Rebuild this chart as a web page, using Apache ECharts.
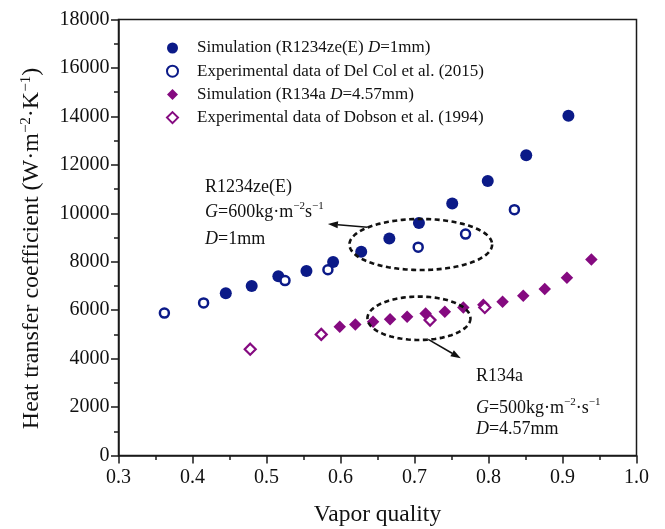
<!DOCTYPE html>
<html>
<head>
<meta charset="utf-8">
<script src="https://cdn.jsdelivr.net/npm/echarts@6/dist/echarts.min.js"></script>
<style>
html,body{margin:0;padding:0;background:#fff;}
#main{width:665px;height:529px;}
</style>
</head>
<body>
<div id="main"></div>
<script>
// ---- data ----
const xSimR1234 = [0.445, 0.480, 0.516, 0.554, 0.590, 0.628, 0.666, 0.706, 0.751, 0.799, 0.851, 0.908];
const ySimR1234 = [6700, 7000, 7400, 7620, 7990, 8410, 8960, 9600, 10400, 11330, 12400, 14030];
const xExpDelCol = [0.362, 0.415, 0.525, 0.583, 0.705, 0.769, 0.835];
const yExpDelCol = [5880, 6300, 7220, 7670, 8600, 9140, 10150];
const xSimR134a = [0.599, 0.620, 0.644, 0.667, 0.690, 0.715, 0.741, 0.766, 0.793, 0.819, 0.847, 0.876, 0.906, 0.939];
const ySimR134a = [5320, 5410, 5520, 5620, 5730, 5860, 5930, 6110, 6220, 6350, 6600, 6870, 7340, 8090];
const xExpDobson = [0.478, 0.574, 0.721, 0.795];
const yExpDobson = [4390, 5000, 5590, 6110];
const seriesNames = [
  'Simulation (R1234ze(E) D=1mm)',
  'Experimental data of Del Col et al. (2015)',
  'Simulation (R134a D=4.57mm)',
  'Experimental data of Dobson et al. (1994)'
];
const legendRich = [
  '{f|Simulation (R1234ze(E) }{i|D}{a|=1mm)}',
  '{f|Experimental data of Del Col et al. (2015)}',
  '{f|Simulation (R134a }{i|D}{a|=4.57mm)}',
  '{f|Experimental data of Dobson et al. (1994)}'
];
const xTicks = {min: 0.3, max: 1.0, interval: 0.1};
const yTicks = {min: 0, max: 18000, interval: 2000};

const FONT = "'Liberation Serif','Times New Roman',serif";
const NAVY = '#0b1a88';
const PURPLE = '#850a80';

function pairs(xs, ys){ return xs.map((x,i)=>[x, ys[i]]); }

const chart = echarts.init(document.getElementById('main'), null, {renderer:'canvas'});
const option = {
  animation: false,
  backgroundColor: '#fff',
  grid: {left: 118.5, right: 28.5, top: 19.5, bottom: 73.5, containLabel: false, outerBoundsMode: 'none',
         show: true, borderColor: '#1a1a1a', borderWidth: 1.5, backgroundColor: 'transparent'},
  legend: {
    orient: 'vertical', left: 161, top: 34.5, itemWidth: 11, itemHeight: 11, itemGap: 6.2,
    data: seriesNames,
    formatter: function(name){ return legendRich[seriesNames.indexOf(name)]; },
    textStyle: {
      fontFamily: FONT, fontSize: 17, color: '#111',
      rich: {
        f: {fontFamily: FONT, fontSize: 17, color: '#111', padding: [0,0,0,14], lineHeight: 18},
        a: {fontFamily: FONT, fontSize: 17, color: '#111', lineHeight: 18},
        i: {fontFamily: FONT, fontSize: 17, color: '#111', fontStyle: 'italic', lineHeight: 18}
      }
    }
  },
  xAxis: {
    type: 'value', min: xTicks.min, max: xTicks.max, interval: xTicks.interval,
    name: 'Vapor quality', nameLocation: 'middle', nameGap: 47,
    nameTextStyle: {fontFamily: FONT, fontSize: 23.5, color: '#111'},
    axisLine: {show: true, lineStyle: {color: '#1a1a1a', width: 1.5}},
    axisTick: {show: true, inside: false, length: 8, lineStyle: {color: '#1a1a1a', width: 1.5}},
    minorTick: {show: true, splitNumber: 2, length: 4.5, lineStyle: {color: '#1a1a1a', width: 1.5}},
    splitLine: {show: false},
    axisLabel: {fontFamily: FONT, fontSize: 20, color: '#111', margin: 12, formatter: v => v.toFixed(1)}
  },
  yAxis: {
    type: 'value', min: yTicks.min, max: yTicks.max, interval: yTicks.interval,
    name: '{a|Heat transfer coefficient (W·m}{s|−2}{a|·K}{s|−1}{a|)}',
    nameLocation: 'middle', nameGap: 74,
    nameTextStyle: {
      fontFamily: FONT, fontSize: 24, color: '#111', padding: [0, 22, 0, 0],
      rich: {
        a: {fontFamily: FONT, fontSize: 24, color: '#111', lineHeight: 26},
        s: {fontFamily: FONT, fontSize: 15, color: '#111', lineHeight: 16, verticalAlign: 'top'}
      }
    },
    axisLine: {show: true, lineStyle: {color: '#1a1a1a', width: 1.5}},
    axisTick: {show: true, inside: false, length: 7.5, lineStyle: {color: '#1a1a1a', width: 1.5}},
    minorTick: {show: true, splitNumber: 2, length: 4.5, lineStyle: {color: '#1a1a1a', width: 1.5}},
    splitLine: {show: false},
    axisLabel: {fontFamily: FONT, fontSize: 20, color: '#111', margin: 9, formatter: v => String(v)}
  },
  series: [
    {name: seriesNames[0], type: 'scatter', data: pairs(xSimR1234, ySimR1234), symbol: 'circle', symbolSize: 12,
     itemStyle: {color: NAVY, opacity: 1}},
    {name: seriesNames[1], type: 'scatter', data: pairs(xExpDelCol, yExpDelCol), symbol: 'circle', symbolSize: 9,
     itemStyle: {color: '#fff', borderColor: NAVY, borderWidth: 2.5, opacity: 1}},
    {name: seriesNames[2], type: 'scatter', data: pairs(xSimR134a, ySimR134a), symbol: 'diamond', symbolSize: 12.5, symbolKeepAspect: true,
     itemStyle: {color: PURPLE, opacity: 1}},
    {name: seriesNames[3], type: 'scatter', data: pairs(xExpDobson, yExpDobson), symbol: 'diamond', symbolSize: 11, symbolKeepAspect: true,
     itemStyle: {color: '#fff', borderColor: PURPLE, borderWidth: 2.2, opacity: 1}}
  ]
};
chart.setOption(option);

// ---- annotations (anchored in data coordinates) ----
const ellipses = [
  {cx: 0.7085, cy: 8711, rx: 0.0964, ry: 1053},
  {cx: 0.706, cy: 5665, rx: 0.0696, ry: 896}
];
const arrows = [
  {from: [0.6366, 9422], to: [0.5830, 9560]},
  {from: [0.7185, 4797], to: [0.7625, 4013]}
];
const labels = [
  {at: [0.417, 11090], text: '{a|R1234ze(E)}'},
  {at: [0.417, 10060], text: '{i|G}{a|=600kg·m}{s|−2}{a|s}{s|−1}'},
  {at: [0.417, 8930], text: '{i|D}{a|=1mm}'},
  {at: [0.783, 3285], text: '{a|R134a}'},
  {at: [0.783, 1960], text: '{i|G}{a|=500kg·m}{s|−2}{a|·s}{s|−1}'},
  {at: [0.783, 1100], text: '{i|D}{a|=4.57mm}'}
];

function P(x, y){ return chart.convertToPixel({gridIndex: 0}, [x, y]); }
const graphics = [];
ellipses.forEach(e => {
  const c = P(e.cx, e.cy);
  const rxp = P(e.cx + e.rx, e.cy)[0] - c[0];
  const ryp = c[1] - P(e.cx, e.cy + e.ry)[1];
  const pts = [];
  for (let k = 0; k < 120; k++) {
    const t = k / 120 * Math.PI * 2;
    pts.push([c[0] + rxp * Math.cos(t), c[1] + ryp * Math.sin(t)]);
  }
  graphics.push({type: 'polygon', shape: {points: pts}, z: 50,
    style: {fill: 'none', stroke: '#111', lineWidth: 2.6, lineDash: [5, 3.5]}});
});
arrows.forEach(a => {
  const p0 = P(a.from[0], a.from[1]);
  const p1 = P(a.to[0], a.to[1]);
  const ang = Math.atan2(p1[1] - p0[1], p1[0] - p0[0]);
  const L = 10, W = 3.5;
  const bx = p1[0] - L * Math.cos(ang), by = p1[1] - L * Math.sin(ang);
  graphics.push({type: 'line', shape: {x1: p0[0], y1: p0[1], x2: bx, y2: by}, z: 50,
    style: {stroke: '#111', lineWidth: 1.5}});
  graphics.push({type: 'polygon', z: 50, shape: {points: [
    [p1[0], p1[1]],
    [bx + W * Math.sin(ang), by - W * Math.cos(ang)],
    [bx - W * Math.sin(ang), by + W * Math.cos(ang)]
  ]}, style: {fill: '#111'}});
});
labels.forEach(l => {
  const p = P(l.at[0], l.at[1]);
  graphics.push({type: 'text', x: p[0], y: p[1], z: 50, style: {
    text: l.text, fill: '#111', font: '18px ' + FONT, verticalAlign: 'middle', align: 'left',
    rich: {
      a: {fontFamily: FONT, fontSize: 18, fill: '#111', lineHeight: 22},
      i: {fontFamily: FONT, fontSize: 18, fill: '#111', fontStyle: 'italic', lineHeight: 22},
      s: {fontFamily: FONT, fontSize: 11, fill: '#111', lineHeight: 12, verticalAlign: 'top'}
    }
  }});
});
chart.setOption({graphic: {elements: graphics}});
</script>
</body>
</html>
